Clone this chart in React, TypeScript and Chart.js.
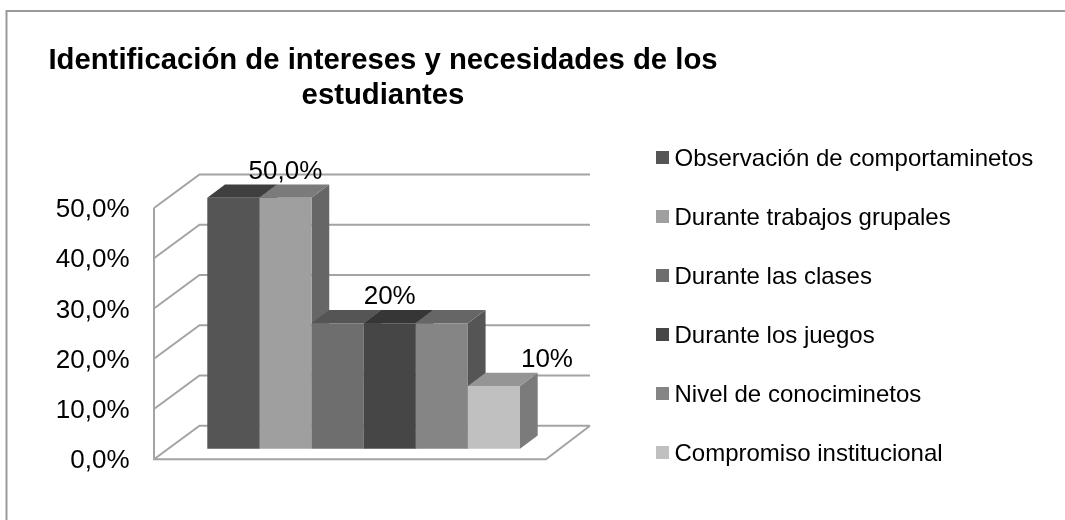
import React, { useEffect, useRef } from "react";
import { Chart, registerables } from "chart.js";

Chart.register(...registerables);

const categories = ["Identificación de intereses y necesidades de los estudiantes"];
const titleLines = ["Identificación de intereses y necesidades de los", "estudiantes"];
const seriesNames = [
  "Observación de comportaminetos",
  "Durante trabajos grupales",
  "Durante las clases",
  "Durante los juegos",
  "Nivel de conociminetos",
  "Compromiso institucional",
];
const seriesValues = [50, 50, 25, 25, 25, 12.5];
const dataLabels = ["", "50,0%", "", "20%", "", "10%"];
const tickLabels = ["0,0%", "10,0%", "20,0%", "30,0%", "40,0%", "50,0%"];

const frontColors = ["#555555", "#9f9f9f", "#6e6e6e", "#464646", "#858585", "#c0c0c0"];
const topColors = ["#3f3f3f", "#7b7b7b", "#555555", "#363636", "#666666", "#959595"];
const sideColors = ["#3f3f3f", "#666666", "#555555", "#363636", "#555555", "#7b7b7b"];
const labelShiftX = [0, 0, 0, 0, 0, 53];

const DEPTH_X = 17.7;
const DEPTH_Y = 13.3;
const WALL_X = 45.5;
const WALL_Y = 33.6;
const LABEL_DROP = 2;
const GRID = "#a4a4a4";
const FONT = "'Liberation Sans', Arial, sans-serif";

const poly = (ctx: CanvasRenderingContext2D, pts: number[][], fill: string) => {
  ctx.beginPath();
  pts.forEach((p, i) => (i ? ctx.lineTo(p[0], p[1]) : ctx.moveTo(p[0], p[1])));
  ctx.closePath();
  ctx.fillStyle = fill;
  ctx.fill();
};

const legendSwatch = (color: string) => {
  const c = document.createElement("canvas");
  c.width = 13;
  c.height = 16;
  const g = c.getContext("2d")!;
  g.fillStyle = color;
  g.fillRect(0, 0, 13, 13);
  return c;
};

const scene3d = {
  id: "scene3d",
  afterLayout(chart: any) {
    const t = chart.titleBlock;
    t.left = 0;
    t.right = 766;
    const l = chart.legend;
    l.left = 627.5;
    l.right = 1065;
    l.top = 112;
    l.bottom = 520;
  },
  beforeDraw(chart: any) {
    const { ctx, width, height } = chart;
    ctx.save();
    ctx.fillStyle = "#ffffff";
    ctx.fillRect(0, 0, width, height);
    ctx.strokeStyle = "#999999";
    ctx.lineWidth = 2;
    ctx.beginPath();
    ctx.moveTo(6.5, height);
    ctx.lineTo(6.5, 11);
    ctx.lineTo(width, 11);
    ctx.stroke();
    ctx.restore();
  },
  beforeDatasetsDraw(chart: any) {
    const { ctx, scales } = chart;
    const axis = scales.yTicks;
    const left = chart.chartArea.left;
    const backRight = 590;
    const floorRight = 546;
    const y0 = axis.getPixelForValue(0) - LABEL_DROP;
    ctx.save();
    ctx.strokeStyle = GRID;
    ctx.lineWidth = 2;
    ctx.lineJoin = "miter";
    ctx.beginPath();
    axis.ticks.forEach((tick: any) => {
      const y = axis.getPixelForValue(tick.value) - LABEL_DROP;
      ctx.moveTo(left, y);
      ctx.lineTo(left + WALL_X, y - WALL_Y);
      ctx.lineTo(backRight, y - WALL_Y);
    });
    ctx.moveTo(left, axis.getPixelForValue(50) - LABEL_DROP);
    ctx.lineTo(left, y0);
    ctx.lineTo(floorRight, y0);
    ctx.lineTo(backRight, y0 - WALL_Y);
    ctx.stroke();

    seriesValues.forEach((_, i) => {
      const bar = chart.getDatasetMeta(i).data[0];
      const l = bar.x - bar.width / 2;
      const r = bar.x + bar.width / 2;
      poly(ctx, [[r, bar.y], [r + DEPTH_X, bar.y - DEPTH_Y], [r + DEPTH_X, bar.base - DEPTH_Y], [r, bar.base]], sideColors[i]);
      poly(ctx, [[l, bar.y], [r, bar.y], [r + DEPTH_X, bar.y - DEPTH_Y], [l + DEPTH_X, bar.y - DEPTH_Y]], topColors[i]);
    });
    ctx.restore();
  },
  afterDatasetsDraw(chart: any) {
    const { ctx } = chart;
    ctx.save();
    ctx.fillStyle = "#000000";
    ctx.font = `26px ${FONT}`;
    ctx.textAlign = "center";
    ctx.textBaseline = "middle";
    dataLabels.forEach((text, i) => {
      if (!text) return;
      const bar = chart.getDatasetMeta(i).data[0];
      ctx.fillText(text, bar.x + labelShiftX[i], bar.y - 26);
    });
    ctx.restore();
  },
};

export default function App() {
  const ref = useRef<HTMLCanvasElement>(null);
  useEffect(() => {
    document.body.style.margin = "0";
    const chart = new Chart(ref.current!, {
      type: "bar",
      data: {
        labels: categories,
        datasets: seriesNames.map((name, i) => ({
          label: name,
          data: [seriesValues[i]],
          backgroundColor: frontColors[i],
          borderWidth: 0,
          yAxisID: "y",
          xAxisID: "x",
          categoryPercentage: 312.7 / 419.3,
          barPercentage: 1,
        })),
      },
      options: {
        responsive: false,
        animation: false,
        devicePixelRatio: 1,
        layout: { padding: { left: 0, top: 0, right: 91.7, bottom: 58.7 } },
        scales: {
          x: { display: false },
          y: { display: false, min: -2.51, max: 54.72 },
          yTicks: {
            position: "left",
            min: 0,
            max: 57.16,
            border: { display: false },
            grid: { display: false, drawTicks: false },
            afterFit(scale: any) {
              scale.width = 154;
            },
            ticks: {
              stepSize: 10,
              includeBounds: false,
              padding: 24.5,
              color: "#000000",
              font: { family: FONT, size: 26 },
              callback: (v: any) => tickLabels[Math.round(Number(v) / 10)],
            },
          },
        },
        plugins: {
          tooltip: { enabled: false },
          title: {
            display: true,
            text: titleLines,
            color: "#000000",
            align: "center",
            font: { family: FONT, size: 29.3, weight: "bold", lineHeight: 34.7 / 29.3 },
            padding: { top: 44, bottom: 60.6 },
          },
          legend: {
            display: true,
            position: "right",
            align: "start",
            maxWidth: 400,
            labels: {
              usePointStyle: true,
              boxWidth: 0.01,
              boxHeight: 13,
              padding: 35,
              color: "#000000",
              font: { family: FONT, size: 24 },
              generateLabels: (c: any) =>
                (Chart as any).defaults.plugins.legend.labels
                  .generateLabels(c)
                  .map((item: any, i: number) => ({ ...item, pointStyle: legendSwatch(frontColors[i]) })),
            },
          },
        },
      } as any,
      plugins: [scene3d],
    });
    return () => chart.destroy();
  }, []);
  return <canvas ref={ref} width={1065} height={520} style={{ display: "block" }} />;
}
